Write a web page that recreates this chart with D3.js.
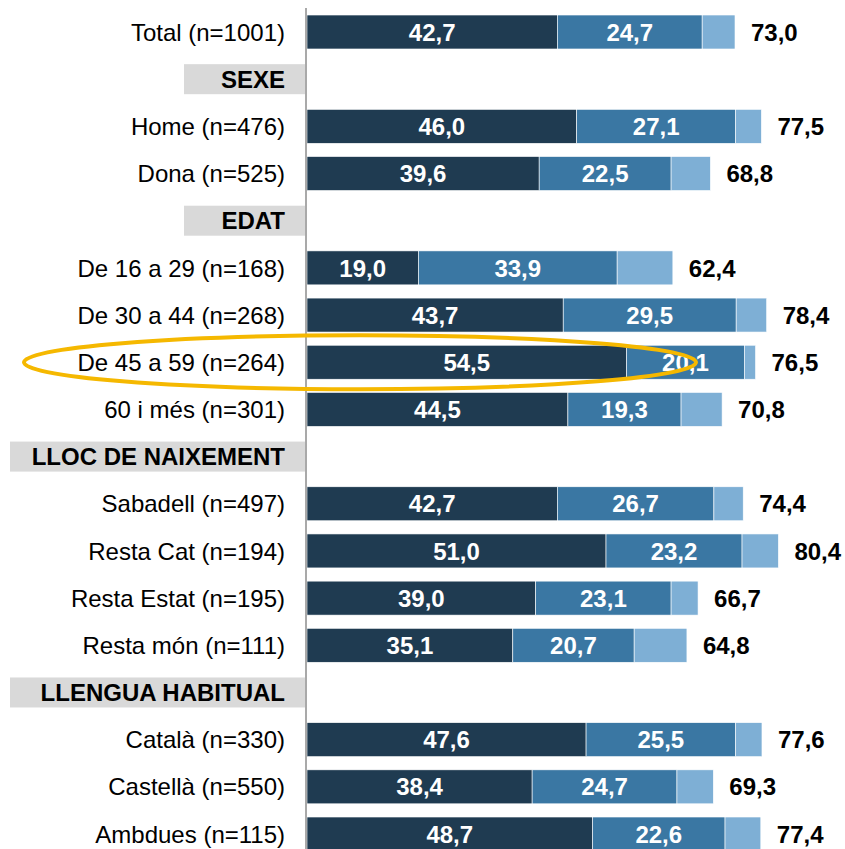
<!DOCTYPE html>
<html>
<head>
<meta charset="utf-8">
<script src="https://cdn.jsdelivr.net/npm/d3@7"></script>
<style>
  body { margin: 0; background: #fff; }
  text { font-family: "Liberation Sans", Arial, sans-serif; }
</style>
</head>
<body>
<svg id="chart" width="845" height="849"></svg>
<script>
// rows, in order; null values mark a section header
var labels = ["Total (n=1001)", "SEXE", "Home (n=476)", "Dona (n=525)", "EDAT",
    "De 16 a 29 (n=168)", "De 30 a 44 (n=268)", "De 45 a 59 (n=264)", "60 i més (n=301)",
    "LLOC DE NAIXEMENT", "Sabadell (n=497)", "Resta Cat (n=194)", "Resta Estat (n=195)", "Resta món (n=111)",
    "LLENGUA HABITUAL", "Català (n=330)", "Castellà (n=550)", "Ambdues (n=115)"];
var serie1 = [42.7, null, 46.0, 39.6, null, 19.0, 43.7, 54.5, 44.5, null, 42.7, 51.0, 39.0, 35.1, null, 47.6, 38.4, 48.7];
var serie2 = [24.7, null, 27.1, 22.5, null, 33.9, 29.5, 20.1, 19.3, null, 26.7, 23.2, 23.1, 20.7, null, 25.5, 24.7, 22.6];
var totals = [73.0, null, 77.5, 68.8, null, 62.4, 78.4, 76.5, 70.8, null, 74.4, 80.4, 66.7, 64.8, null, 77.6, 69.3, 77.4];

var colors = ["#1f3b51", "#3a77a3", "#7eafd5"];
var headerBoxLeft = { "SEXE": 184, "EDAT": 184, "LLOC DE NAIXEMENT": 10, "LLENGUA HABITUAL": 10 };

var svg = d3.select("#chart");
var x0 = 307, labelRight = 285;

var x = d3.scaleLinear().domain([0, 73]).range([x0, 735]);
var step = (834 - 32) / (labels.length - 1);
var y = d3.scaleBand().domain(d3.range(labels.length))
    .range([32 - step / 2, 834 + step / 2])
    .paddingInner(0.28).paddingOuter(0.14);
var fmt = function (v) { return d3.format(".1f")(v).replace(".", ","); };
var cy = function (d) { return y(d.i) + y.bandwidth() / 2; };

var rows = labels.map(function (l, i) {
    return { i: i, label: l, header: totals[i] === null, a: serie1[i], b: serie2[i], t: totals[i] };
});

// header boxes
svg.selectAll("rect.hdr").data(rows.filter(function (d) { return d.header; }))
    .enter().append("rect").attr("class", "hdr")
    .attr("x", function (d) { return headerBoxLeft[d.label]; })
    .attr("width", function (d) { return 305 - headerBoxLeft[d.label]; })
    .attr("y", function (d) { return cy(d) - 15; })
    .attr("height", 30)
    .attr("fill", "#d9d9d9");

// category labels
svg.selectAll("text.cat").data(rows)
    .enter().append("text").attr("class", "cat")
    .attr("x", labelRight)
    .attr("y", cy)
    .attr("dy", "0.36em")
    .attr("text-anchor", "end")
    .attr("font-size", 24)
    .attr("font-weight", function (d) { return d.header ? "bold" : "normal"; })
    .attr("fill", "#000")
    .text(function (d) { return d.label; });

// stacked segments
var data = rows.filter(function (d) { return !d.header; });
var segs = [];
data.forEach(function (d) {
    var parts = [d.a, d.b, d.t - d.a - d.b], s = 0;
    parts.forEach(function (v, k) {
        segs.push({ i: d.i, k: k, x0: s, x1: s + v, v: v });
        s += v;
    });
});

svg.selectAll("rect.seg").data(segs)
    .enter().append("rect").attr("class", "seg")
    .attr("x", function (d) { return x(d.x0); })
    .attr("width", function (d) { return x(d.x1) - x(d.x0); })
    .attr("y", function (d) { return y(d.i); })
    .attr("height", y.bandwidth())
    .attr("fill", function (d) { return colors[d.k]; })
    .attr("stroke", "#fff")
    .attr("stroke-width", 0.6);

svg.selectAll("text.seg").data(segs.filter(function (d) { return d.k < 2; }))
    .enter().append("text").attr("class", "seg")
    .attr("x", function (d) { return (x(d.x0) + x(d.x1)) / 2; })
    .attr("y", cy)
    .attr("dy", "0.36em")
    .attr("text-anchor", "middle")
    .attr("font-size", 24)
    .attr("font-weight", "bold")
    .attr("fill", "#fff")
    .text(function (d) { return fmt(d.v); });

svg.selectAll("text.tot").data(data)
    .enter().append("text").attr("class", "tot")
    .attr("x", function (d) { return x(d.t) + 16; })
    .attr("y", cy)
    .attr("dy", "0.36em")
    .attr("font-size", 24)
    .attr("font-weight", "bold")
    .attr("fill", "#000")
    .text(function (d) { return fmt(d.t); });

// axis line
svg.append("line")
    .attr("x1", 306).attr("x2", 306)
    .attr("y1", 8).attr("y2", 849)
    .attr("stroke", "#8c8c8c").attr("stroke-width", 1.5);

// highlight
var hi = labels.indexOf("De 45 a 59 (n=264)");
svg.append("ellipse")
    .attr("cx", 360)
    .attr("cy", y(hi) + y.bandwidth() / 2)
    .attr("rx", 336).attr("ry", 27)
    .attr("fill", "none")
    .attr("stroke", "#f5b800")
    .attr("stroke-width", 4);
</script>
</body>
</html>
